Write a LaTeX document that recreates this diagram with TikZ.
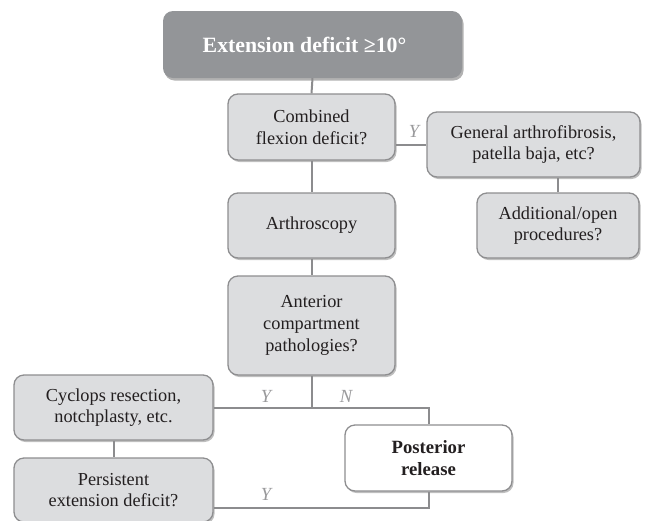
\documentclass[tikz,border=0pt]{standalone}
\usepackage{fontspec}
\setmainfont{LiberationSerif}[Extension=.ttf, UprightFont=*-Regular, BoldFont=*-Bold, ItalicFont=*-Italic, BoldItalicFont=*-BoldItalic]
\usetikzlibrary{shadows}
\definecolor{boxfill}{HTML}{DCDDDF}
\definecolor{boxline}{HTML}{8E8E90}
\definecolor{topfill}{HTML}{939598}
\definecolor{conn}{HTML}{8C8C8E}
\definecolor{lbl}{HTML}{9A9A9C}
\definecolor{txt}{HTML}{231F20}
\begin{document}
\begin{tikzpicture}[x=1pt,y=-1pt,
  box/.style={draw=boxline, line width=1.3pt, fill=boxfill, rounded corners=10pt,
    align=center, text=txt, font=\fontsize{18.3}{21.7}\selectfont, inner sep=0pt,
    drop shadow={shadow xshift=1.5pt, shadow yshift=-2pt, opacity=0.25, fill=black}},
  topbox/.style={fill=topfill, draw=none, rounded corners=10pt, text=white,
    align=center, font=\fontsize{21.8}{25}\selectfont\bfseries, inner sep=0pt,
    drop shadow={shadow xshift=1.5pt, shadow yshift=-2.5pt, opacity=0.3, fill=black}},
  whitebox/.style={box, fill=white, font=\fontsize{18.7}{21.7}\selectfont\bfseries},
  conn/.style={draw=conn, line width=2pt},
  yn/.style={text=lbl, font=\fontsize{18.5}{20}\selectfont\itshape, inner sep=0pt}]
\useasboundingbox (0,0) rectangle (650,520);
\fill[white] (0,0) rectangle (650,520);

\node[topbox, minimum width=299pt, minimum height=67pt] (top) at (312.5,44.5) {Extension deficit ≥10°\hspace*{16pt}};
\node[box, minimum width=167pt, minimum height=66pt] (comb) at (311.5,127) {Combined\\flexion deficit?};
\node[box, minimum width=213pt, minimum height=65pt] (gen) at (533.5,144.5) {General arthrofibrosis,\\patella baja, etc?};
\node[box, minimum width=162pt, minimum height=65pt] (add) at (558,225.5) {Additional/open\\procedures?};
\node[box, minimum width=167pt, minimum height=65pt] (arth) at (311.5,225.5) {Arthroscopy};
\node[box, minimum width=167pt, minimum height=99pt] (ant) at (311.5,325.5) {Anterior\\compartment\\pathologies?};
\node[box, minimum width=199pt, minimum height=65pt] (cyc) at (113.5,407.5) {Cyclops resection,\\notchplasty, etc.};
\node[box, minimum width=199pt, minimum height=64pt] (pers) at (113.5,490) {Persistent\\extension deficit?};
\node[whitebox, minimum width=167pt, minimum height=66pt] (post) at (428.5,458) {Posterior\\release};

\coordinate (antdown) at (ant.south |- cyc.east);
\coordinate (postup) at (post.north |- cyc.east);
\coordinate (persout) at ([yshift=-18pt]pers.east);
\coordinate (postdown) at (post.south |- persout);

\draw[conn] (top.south) -- (comb.north);
\draw[conn] (comb.south) -- (arth.north);
\draw[conn] (arth.south) -- (ant.north);
\draw[conn] (gen.west) -- (gen.west -| comb.east);
\draw[conn] (add.north) -- (add.north |- gen.south);
\draw[conn] (ant.south) -- (antdown);
\draw[conn] (cyc.east) -- (postup) -- (post.north);
\draw[conn] (cyc.south) -- (pers.north);
\draw[conn] (persout) -- (postdown) -- (post.south);

\node[yn] (y1) at (414,131) {Y};
\node[yn] (y2) at (266,396) {Y};
\node[yn] (n1) at (346,396) {N};
\node[yn] (y3) at (266,494) {Y};
\end{tikzpicture}
\end{document}
